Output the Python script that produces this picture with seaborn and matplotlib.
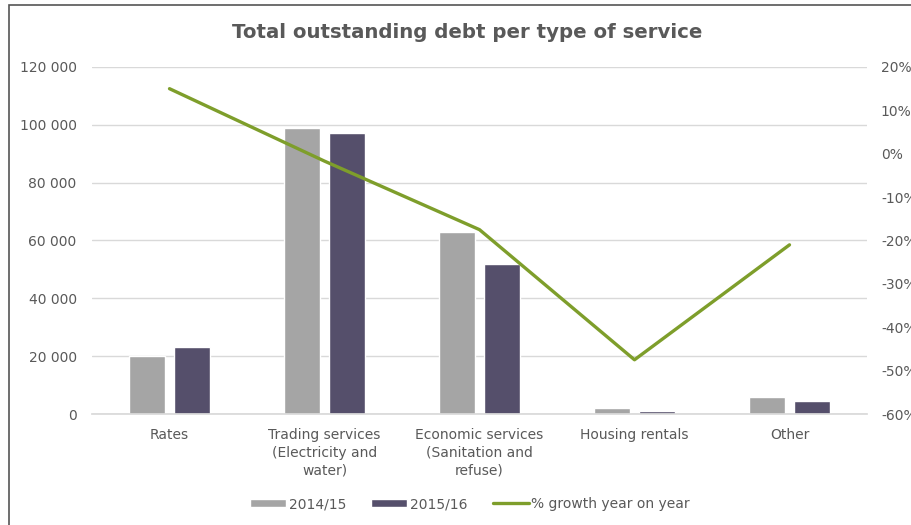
import matplotlib
matplotlib.use("Agg")
import matplotlib.pyplot as plt
from matplotlib.lines import Line2D
from matplotlib.patches import Patch, Rectangle
from matplotlib.ticker import FuncFormatter, FixedLocator
import numpy as np
import pandas as pd
import seaborn as sns

# Debt per service category (R thousand) and year-on-year growth (%)
categories = [
    "Rates",
    "Trading services\n(Electricity and\nwater)",
    "Economic services\n(Sanitation and\nrefuse)",
    "Housing rentals",
    "Other",
]
debt_2014_15 = [20000, 99000, 63000, 2000, 5800]
debt_2015_16 = [23000, 97200, 52000, 1050, 4550]
growth_pct = [15.0, -1.7, -17.5, -47.5, -21.0]
years = ["2014/15", "2015/16"]

GRAY = "#A5A5A5"
PURPLE = "#554F6B"
GREEN = "#7E9E2B"
TEXT = "#595959"

sns.set_theme(style="white")
plt.rcParams["font.family"] = ["DejaVu Sans"]

df = pd.DataFrame({
    "category": categories * 2,
    "year": [years[0]] * len(categories) + [years[1]] * len(categories),
    "debt": debt_2014_15 + debt_2015_16,
})

fig = plt.figure(figsize=(9.12, 5.25), dpi=100)
ax = fig.add_axes([92 / 912, 1 - 414 / 525, (867 - 92) / 912, (414 - 67) / 525])

sns.barplot(data=df, x="category", y="debt", hue="year", order=categories,
            hue_order=years, palette=[GRAY, PURPLE], width=0.58, gap=0.22,
            ax=ax, legend=False, saturation=1)

ax.set_ylim(0, 120000)
ax.set_xlim(-0.5, len(categories) - 0.5)
ax.yaxis.set_major_locator(FixedLocator(np.arange(0, 120001, 20000)))
ax.yaxis.set_major_formatter(FuncFormatter(lambda v, p: f"{int(v):,}".replace(",", " ")))
ax.grid(axis="y", color="#D9D9D9", linewidth=1)
ax.set_axisbelow(True)
for s in ["top", "right", "left"]:
    ax.spines[s].set_visible(False)
ax.spines["bottom"].set_color("#D9D9D9")
ax.set_xlabel("")
ax.set_ylabel("")
ax.tick_params(axis="y", length=0, pad=11, labelsize=10, labelcolor=TEXT)
ax.tick_params(axis="x", length=0, pad=10, labelsize=10, labelcolor=TEXT)
for lbl in ax.get_xticklabels():
    lbl.set_linespacing(1.35)

ax2 = ax.twinx()
sns.lineplot(x=np.arange(len(categories)), y=growth_pct, ax=ax2, color=GREEN,
             linewidth=2.4)
ax2.set_ylim(-60, 20)
ax2.yaxis.set_major_locator(FixedLocator(np.arange(-60, 21, 10)))
ax2.yaxis.set_major_formatter(FuncFormatter(lambda v, p: f"{int(v)}%"))
ax2.tick_params(axis="y", length=0, pad=10, labelsize=10, labelcolor=TEXT)
for s in ax2.spines.values():
    s.set_visible(False)
ax2.grid(False)

fig.text(467 / 912, 1 - 33 / 525, "Total outstanding debt per type of service",
         ha="center", va="center", fontsize=14.2, fontweight="bold", color=TEXT)

handles = [
    Patch(facecolor=GRAY, label=years[0]),
    Patch(facecolor=PURPLE, label=years[1]),
    Line2D([0], [0], color=GREEN, linewidth=2.4, label="% growth year on year"),
]
fig.legend(handles=handles, loc="center", bbox_to_anchor=(470 / 912, 1 - 504 / 525),
           ncol=3, frameon=False, fontsize=10, labelcolor=TEXT, handlelength=2.6,
           handleheight=0.55, handletextpad=0.2, columnspacing=1.8)

fig.patches.append(Rectangle((9 / 912, -0.1), 1.1, 1 - 5 / 525 + 0.1,
                             transform=fig.transFigure, fill=False,
                             edgecolor="#555555", linewidth=1.2))

fig.savefig("out.png", dpi=100)
